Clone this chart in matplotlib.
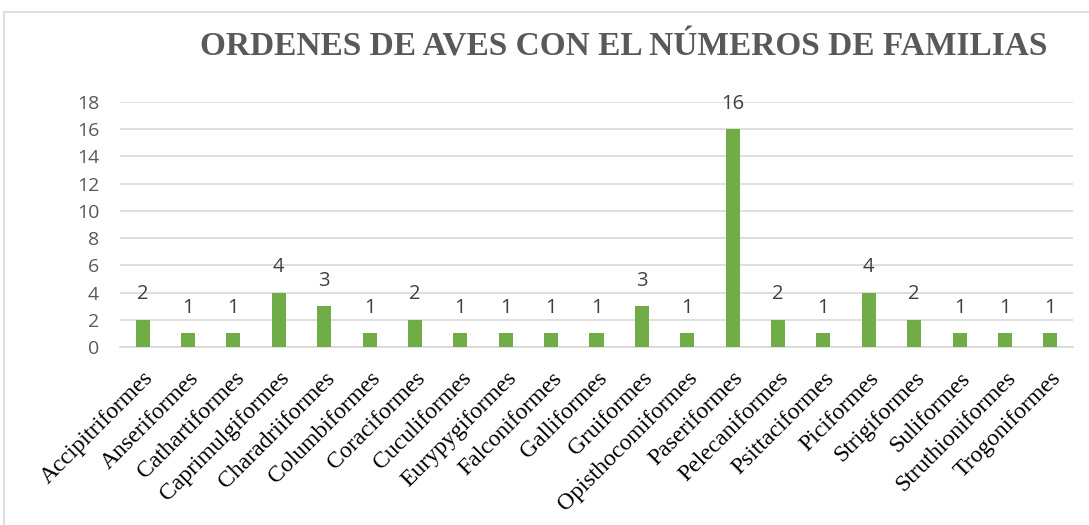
import matplotlib
matplotlib.use("Agg")
import matplotlib.pyplot as plt
from matplotlib.patches import Rectangle

ordenes = ["Accipitriformes", "Anseriformes", "Cathartiformes", "Caprimulgiformes",
           "Charadriiformes", "Columbiformes", "Coraciformes", "Cuculiformes",
           "Eurypygiformes", "Falconiformes", "Galliformes", "Gruiformes",
           "Opisthocomiformes", "Paseriformes", "Pelecaniformes", "Psittaciformes",
           "Piciformes", "Strigiformes", "Suliformes", "Struthioniformes",
           "Trogoniformes"]
familias = [2, 1, 1, 4, 3, 1, 2, 1, 1, 1, 1, 3, 1, 16, 2, 1, 4, 2, 1, 1, 1]
titulo = "ORDENES DE AVES CON EL NÚMEROS DE FAMILIAS"

fig = plt.figure(figsize=(10.89, 5.25), dpi=100)
ax = fig.add_axes([120 / 1089, 1 - 347 / 525, (1073 - 120) / 1089, (347 - 102) / 525])

x = range(len(ordenes))
bars = ax.bar(x, familias, width=0.31, color="#70AD47", zorder=3)
for b, v in zip(bars, familias):
    ax.text(b.get_x() + b.get_width() / 2, v + 1.15, str(v), ha="center", va="bottom",
            fontsize=14.5, color="#404040", family="Open Sans")

ax.set_xlim(-0.5, len(ordenes) - 0.5)
ax.set_ylim(0, 18)
ax.set_yticks(range(0, 19, 2))
ax.yaxis.grid(True, color="#D9D9D9", linewidth=1.2, zorder=0)
for s in ["top", "right", "left"]:
    ax.spines[s].set_visible(False)
ax.spines["bottom"].set_color("#D9D9D9")
ax.spines["bottom"].set_linewidth(1.2)
ax.tick_params(axis="both", length=0)
ax.tick_params(axis="y", labelsize=14, labelcolor="#595959", pad=15)
for lab in ax.get_yticklabels():
    lab.set_family("Open Sans")
ax.set_xticks(list(x))
ax.set_xticklabels(ordenes, rotation=45, ha="right", rotation_mode="anchor",
                   family="Liberation Serif", fontsize=17, color="black")
ax.tick_params(axis="x", pad=15)

fig.text(624 / 1089, 1 - 47 / 525, titulo, ha="center", va="center",
         family="Liberation Serif", fontweight="bold", fontsize=24, color="#595959")

fig.patches.append(Rectangle((4 / 1089, -0.05), 1.1, 1.05 - 12 / 525,
                             transform=fig.transFigure, fill=False,
                             edgecolor="#D9D9D9", linewidth=1.2))

fig.savefig("out.png", dpi=100)
